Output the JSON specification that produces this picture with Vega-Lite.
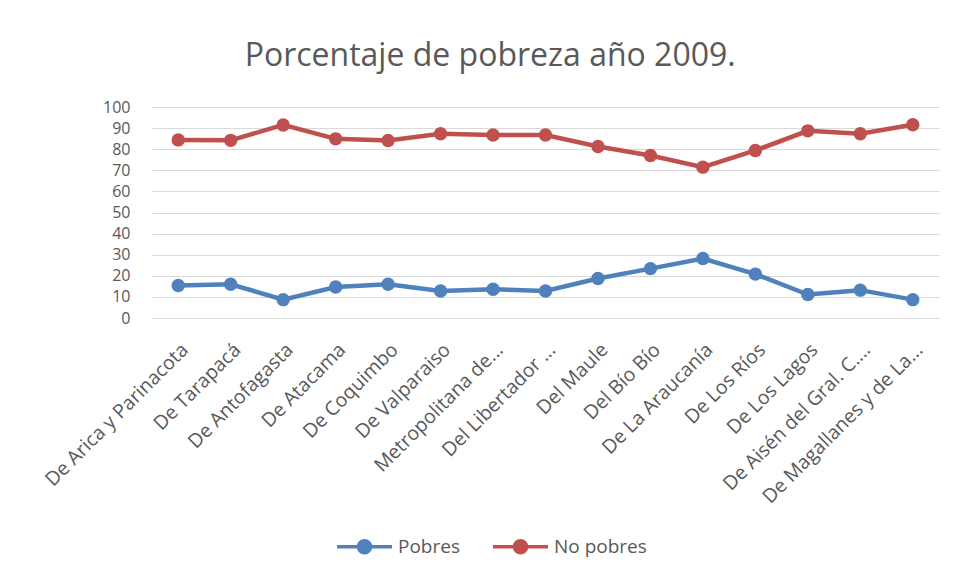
{
  "$schema": "https://vega.github.io/schema/vega-lite/v6.json",
  "width": 787,
  "height": 211,
  "autosize": {"type": "none"},
  "padding": {"left": 152, "top": 107, "right": 16, "bottom": 265},
  "background": "white",
  "title": {
    "text": "Porcentaje de pobreza año 2009.",
    "font": "Open Sans",
    "fontSize": 32,
    "fontWeight": "normal",
    "color": "#595959",
    "anchor": "middle",
    "frame": "bounds",
    "offset": 26
  },
  "config": {
    "view": {"stroke": null},
    "font": "Open Sans"
  },
  "data": {
    "values": [
      {"region": "De Arica y Parinacota", "serie": "Pobres", "valor": 15.4},
      {"region": "De Tarapacá", "serie": "Pobres", "valor": 16.0},
      {"region": "De Antofagasta", "serie": "Pobres", "valor": 8.7},
      {"region": "De Atacama", "serie": "Pobres", "valor": 14.7},
      {"region": "De Coquimbo", "serie": "Pobres", "valor": 16.0},
      {"region": "De Valparaiso", "serie": "Pobres", "valor": 12.8},
      {"region": "Metropolitana de...", "serie": "Pobres", "valor": 13.6},
      {"region": "Del Libertador ...", "serie": "Pobres", "valor": 12.8},
      {"region": "Del Maule", "serie": "Pobres", "valor": 18.7},
      {"region": "Del Bío Bío", "serie": "Pobres", "valor": 23.4},
      {"region": "De La Araucanía", "serie": "Pobres", "valor": 28.2},
      {"region": "De Los Ríos", "serie": "Pobres", "valor": 20.8},
      {"region": "De Los Lagos", "serie": "Pobres", "valor": 11.1},
      {"region": "De Aisén del Gral. C....", "serie": "Pobres", "valor": 13.2},
      {"region": "De Magallanes y de La...", "serie": "Pobres", "valor": 8.7},
      {"region": "De Arica y Parinacota", "serie": "No pobres", "valor": 84.4},
      {"region": "De Tarapacá", "serie": "No pobres", "valor": 84.2},
      {"region": "De Antofagasta", "serie": "No pobres", "valor": 91.5},
      {"region": "De Atacama", "serie": "No pobres", "valor": 84.9},
      {"region": "De Coquimbo", "serie": "No pobres", "valor": 84.1},
      {"region": "De Valparaiso", "serie": "No pobres", "valor": 87.3},
      {"region": "Metropolitana de...", "serie": "No pobres", "valor": 86.7},
      {"region": "Del Libertador ...", "serie": "No pobres", "valor": 86.7},
      {"region": "Del Maule", "serie": "No pobres", "valor": 81.3},
      {"region": "Del Bío Bío", "serie": "No pobres", "valor": 77.0},
      {"region": "De La Araucanía", "serie": "No pobres", "valor": 71.5},
      {"region": "De Los Ríos", "serie": "No pobres", "valor": 79.4},
      {"region": "De Los Lagos", "serie": "No pobres", "valor": 88.7},
      {"region": "De Aisén del Gral. C....", "serie": "No pobres", "valor": 87.3},
      {"region": "De Magallanes y de La...", "serie": "No pobres", "valor": 91.6}
    ]
  },
  "encoding": {
    "x": {
      "field": "region",
      "type": "ordinal",
      "sort": null,
      "scale": {"padding": 0.5},
      "axis": {
        "title": null,
        "labelAngle": -45,
        "labelFontSize": 19.5,
        "labelColor": "#595959",
        "labelFont": "Open Sans",
        "domainColor": "#D9D9D9",
        "domainWidth": 1,
        "ticks": false,
        "grid": false,
        "labelPadding": 22,
        "labelLimit": 300
      }
    },
    "y": {
      "field": "valor",
      "type": "quantitative",
      "scale": {"domain": [0, 100], "nice": false},
      "axis": {
        "title": null,
        "values": [0, 10, 20, 30, 40, 50, 60, 70, 80, 90, 100],
        "labelFontSize": 16,
        "labelColor": "#595959",
        "labelFont": "Open Sans",
        "domain": false,
        "ticks": false,
        "labelPadding": 22,
        "gridColor": "#D9D9D9",
        "gridWidth": 1
      }
    },
    "color": {
      "field": "serie",
      "type": "nominal",
      "sort": ["Pobres", "No pobres"],
      "scale": {"domain": ["Pobres", "No pobres"], "range": ["#4F81BD", "#C0504D"]},
      "legend": {
        "title": null,
        "orient": "none",
        "legendX": 183,
        "legendY": 410,
        "direction": "horizontal",
        "labelFontSize": 19,
        "labelColor": "#595959",
        "labelFont": "Open Sans",
        "symbolType": "M-1,0H1M0.22,0A0.22,0.22,0,1,1,-0.22,0A0.22,0.22,0,1,1,0.22,0",
        "symbolSize": 3025,
        "symbolStrokeWidth": 3.5,
        "labelOffset": 4,
        "columnPadding": 26
      }
    }
  },
  "layer": [
    {"mark": {"type": "line", "strokeWidth": 4.5}},
    {"mark": {"type": "point", "filled": true, "size": 180, "opacity": 1}}
  ]
}
